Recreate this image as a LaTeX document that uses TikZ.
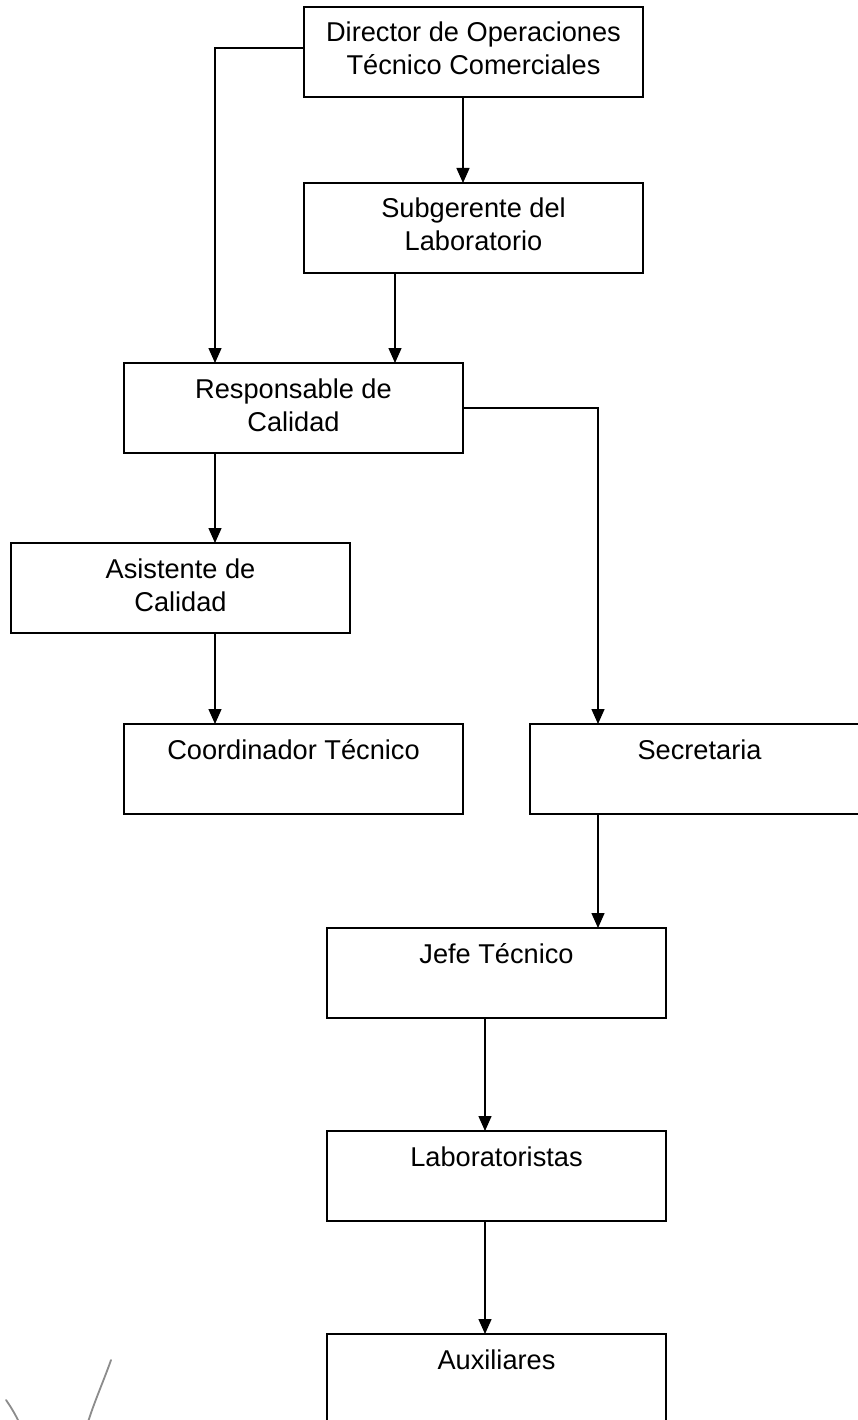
\documentclass[tikz,border=0pt]{standalone}
\usepackage{fontspec}
\setmainfont{Liberation Sans}
\usetikzlibrary{arrows.meta}
\newcommand{\orgtext}[1]{\parbox[c][90pt][t]{339pt}{\centering\rule{0pt}{35pt}#1\par}}
\begin{document}
\begin{tikzpicture}[x=1pt,y=-1pt,
  orgbox/.style={draw, line width=1.5pt, inner sep=0pt, outer sep=0pt, anchor=north west,
                 font=\fontsize{27.2}{33}\selectfont},
  arr/.style={line width=1.4pt, -{Triangle[width=13pt,length=15pt]}},
  scrib/.style={draw=black!45, line width=1.8pt, line cap=round}]
\useasboundingbox (0,0) rectangle (858,1420);
\clip (0,0) rectangle (858,1420);
\fill[white] (0,0) rectangle (858,1420);

\node[orgbox] (b1) at (304,7)    {\orgtext{Director de Operaciones\\Técnico Comerciales}};
\node[orgbox] (b2) at (304,183)  {\orgtext{Subgerente del\\Laboratorio}};
\node[orgbox] (b3) at (124,363)  {\orgtext{Responsable de\\Calidad}};
\node[orgbox] (b4) at (11,543)   {\orgtext{Asistente de\\Calidad}};
\node[orgbox] (b5) at (124,724)  {\orgtext{Coordinador Técnico}};
\node[orgbox] (b6) at (530,724)  {\orgtext{Secretaria}};
\node[orgbox] (b7) at (327,928)  {\orgtext{Jefe Técnico}};
\node[orgbox] (b8) at (327,1131) {\orgtext{Laboratoristas}};
\node[orgbox] (b9) at (327,1334) {\orgtext{Auxiliares}};

\coordinate (vL) at (215,0);
\coordinate (vM) at (395,0);
\coordinate (vT) at (463,0);
\coordinate (vR) at (598,0);
\coordinate (vJ) at (485,0);

\draw[arr] ([yshift=4pt]b1.west) -| (b3.north -| vL);
\draw[arr] (b1.south -| vT) -- (b2.north -| vT);
\draw[arr] (b2.south -| vM) -- (b3.north -| vM);
\draw[arr] (b3.east) -| (b6.north -| vR);
\draw[arr] (b3.south -| vL) -- (b4.north -| vL);
\draw[arr] (b4.south -| vL) -- (b5.north -| vL);
\draw[arr] (b6.south -| vR) -- (b7.north -| vR);
\draw[arr] (b7.south -| vJ) -- (b8.north -| vJ);
\draw[arr] (b8.south -| vJ) -- (b9.north -| vJ);

\draw[scrib] (111,1360) .. controls (104,1380) and (95,1400) .. (88,1422);
\draw[scrib] (6,1400) .. controls (11,1407) and (15,1414) .. (19,1422);
\end{tikzpicture}
\end{document}
